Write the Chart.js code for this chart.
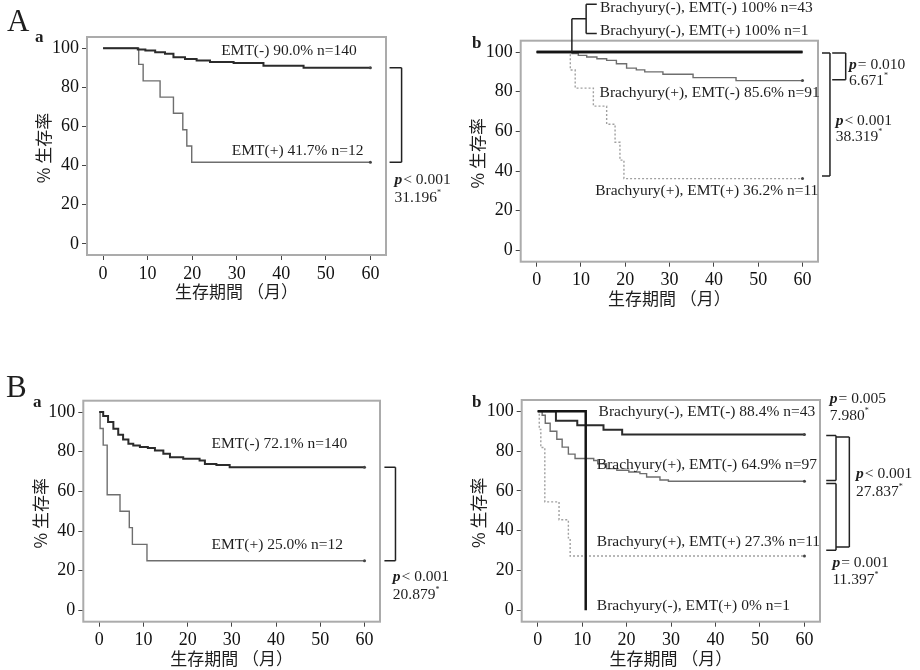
<!DOCTYPE html>
<html lang="ja">
<head>
<meta charset="UTF-8">
<title>生存曲線 EMT / Brachyury</title>
<style>
  body { margin: 0; background: #fff; }
  #fig { position: relative; width: 920px; height: 670px; }
  #fig canvas { position: absolute; }
</style>
</head>
<body>
<div id="fig">
  <canvas id="aa" width="460" height="330" style="left:0;top:0"></canvas>
  <canvas id="ab" width="460" height="330" style="left:460px;top:0"></canvas>
  <canvas id="ba" width="460" height="340" style="left:0;top:330px"></canvas>
  <canvas id="bb" width="460" height="340" style="left:460px;top:330px"></canvas>
</div>
<script src="https://cdn.jsdelivr.net/npm/chart.js"></script>
<script>
const xTicks = [0, 10, 20, 30, 40, 50, 60];
const yTicks = [0, 20, 40, 60, 80, 100];

// A-a
const aaNegT = [0, 7.8, 9.5, 11.7, 13.9, 15.8, 18.4, 21, 24, 29.3, 36, 45, 60];
const aaNegS = [100, 99.3, 98.8, 97.9, 97.2, 95.3, 94.4, 93.7, 92.9, 92.4, 91.0, 90.0, 90.0];
const aaPosT = [0, 8, 9, 12.8, 15.8, 17.9, 18.8, 19.9, 60];
const aaPosS = [100, 91.7, 83.3, 75, 66.7, 58.3, 50, 41.7, 41.7];
const aaLabels = ['EMT(-) 90.0% n=140', 'EMT(+) 41.7% n=12'];

// A-b
const abNegNegT = [0, 60];
const abNegNegS = [100, 100];
const abNegPosT = [0, 60];
const abNegPosS = [100, 100];
const abPosNegT = [0, 8, 9.4, 11.3, 13.6, 15.8, 18, 20.3, 22.5, 24.4, 28.5, 35.3, 45, 60];
const abPosNegS = [100, 99.2, 98.3, 97.5, 96.6, 95.8, 94.1, 91.9, 91.0, 90.0, 88.8, 87.1, 85.6, 85.6];
const abPosPosT = [0, 7.6, 8.7, 12.8, 15.8, 17.7, 18.8, 19.7, 60];
const abPosPosS = [100, 90.9, 81.8, 72.7, 63.6, 54.5, 45.5, 36.2, 36.2];
const abLabels = ['Brachyury(-), EMT(-) 100% n=43', 'Brachyury(-), EMT(+) 100% n=1',
                  'Brachyury(+), EMT(-) 85.6% n=91', 'Brachyury(+), EMT(+) 36.2% n=11'];

// B-a
const baNegT = [0, 0.9, 2, 3.2, 4.3, 5.4, 6.6, 7.7, 9.2, 11, 12.6, 14.5, 16, 19, 22.7, 23.9, 26.5, 29.5, 60];
const baNegS = [100, 98, 95, 91.6, 88.5, 86.1, 84, 83.1, 82.3, 81.8, 80.6, 78.9, 77.2, 76.4, 75.5, 73.8, 73.3, 72.1, 72.1];
const baPosT = [0, 0.2, 0.9, 1.8, 4.7, 6.8, 7.5, 10.8, 60];
const baPosS = [100, 91.7, 83.3, 58.3, 50, 41.7, 33.3, 25, 25];
const baLabels = ['EMT(-) 72.1% n=140', 'EMT(+) 25.0% n=12'];

// B-b
const bbNegNegT = [0, 4.1, 8.9, 14.8, 19.0, 60];
const bbNegNegS = [100, 95.3, 93.0, 90.7, 88.4, 88.4];
const bbNegPosT = [0, 10.8];
const bbNegPosS = [100, 0];
const bbPosNegT = [0, 1.0, 1.7, 2.8, 4.3, 5.5, 6.9, 8.4, 12.6, 13.5, 15.5, 17.8, 20.5, 23, 24.5, 27.5, 29.4, 60];
const bbPosNegS = [100, 98, 94, 90, 86, 82, 78.5, 76.3, 75.3, 73.7, 71.2, 70.4, 69.5, 68.7, 67, 65.5, 64.9, 64.9];
const bbPosPosT = [0, 0.35, 0.7, 1.6, 4.8, 6.9, 7.3, 60];
const bbPosPosS = [100, 90.9, 81.8, 54.5, 45.5, 36.4, 27.3, 27.3];
const bbLabels = ['Brachyury(-), EMT(-) 88.4% n=43', 'Brachyury(+), EMT(-) 64.9% n=97',
                  'Brachyury(+), EMT(+) 27.3% n=11', 'Brachyury(-), EMT(+) 0% n=1'];

const SERIF = '"Liberation Serif", "Times New Roman", serif';
const CJK = '"Noto Sans CJK JP", sans-serif';
const YW = 40, XH = 30;

const styles = {
  dark:   { borderColor: '#2b2b2b', borderWidth: 2 },
  black:  { borderColor: '#151515', borderWidth: 2.5 },
  gray:   { borderColor: '#6e6e6e', borderWidth: 1.4 },
  dotted: { borderColor: '#a0a0a0', borderWidth: 1.4, borderDash: [2, 2] }
};

// first dataset in a list is drawn on top
function curve(t, s, style, censor) {
  return Object.assign({
    data: t.map((v, i) => ({ x: v, y: s[i] })),
    stepped: 'before',
    fill: false,
    censor: censor !== false,
    pointRadius: c => (c.dataset.censor && c.index === c.dataset.data.length - 1) ? 1.5 : 0,
    pointBackgroundColor: '#444',
    pointBorderWidth: 0
  }, styles[style]);
}

function pText(ctx, px, py, op, val) {
  ctx.textAlign = 'left';
  ctx.font = 'bold italic 15.5px ' + SERIF;
  ctx.fillText('p', px, py);
  const w = ctx.measureText('p').width;
  ctx.font = '15.5px ' + SERIF;
  ctx.fillText(op + ' ' + val, px + w + 1, py);
}

function chiText(ctx, px, py, val) {
  ctx.textAlign = 'left';
  ctx.font = '15.5px ' + SERIF;
  ctx.fillText(val, px, py);
  const w = ctx.measureText(val).width;
  ctx.font = '8px ' + SERIF;
  ctx.fillText('*', px + w, py - 5);
}

const decor = {
  id: 'decor',
  beforeDatasetsDraw(chart) {
    const { ctx, chartArea: a } = chart;
    ctx.save();
    ctx.strokeStyle = '#ababab';
    ctx.lineWidth = 2;
    ctx.strokeRect(a.left, a.top, a.right - a.left, a.bottom - a.top);
    ctx.restore();
  },
  afterDraw(chart, args, o) {
    const { ctx, chartArea: a, scales: { x, y } } = chart;
    const X = v => x.getPixelForValue(v), Y = v => y.getPixelForValue(v);
    ctx.save();
    ctx.fillStyle = '#1e1e1e';
    ctx.textBaseline = 'alphabetic';
    // panel letters
    (o.letters || []).forEach(l => {
      ctx.font = l.font;
      ctx.textAlign = 'left';
      ctx.fillText(l.t, l.x, l.y);
    });
    // axis titles
    ctx.textBaseline = 'middle';
    ctx.textAlign = 'center';
    ctx.font = '17px ' + CJK;
    ctx.fillText('生存期間 （月）', (a.left + a.right) / 2, a.bottom + 37);
    ctx.save();
    ctx.translate(a.left - 43, (a.top + a.bottom) / 2 + 2);
    ctx.rotate(-Math.PI / 2);
    ctx.fillText('% 生存率', 0, 0);
    ctx.restore();
    // curve labels
    ctx.textAlign = 'left';
    ctx.font = '15.5px ' + SERIF;
    (o.labels || []).forEach(l => ctx.fillText(l.t, X(l.x), Y(l.y)));
    // brackets
    ctx.strokeStyle = '#222';
    ctx.lineWidth = 1.5;
    ctx.beginPath();
    (o.lines || []).forEach(s => {
      ctx.moveTo(X(s[0]), Y(s[1]));
      ctx.lineTo(X(s[2]), Y(s[3]));
    });
    ctx.stroke();
    // p values and chi-square
    (o.stats || []).forEach(s => {
      pText(ctx, X(s.x), Y(s.y), s.op, s.p);
      chiText(ctx, X(s.x), Y(s.y2), s.chi);
    });
    ctx.restore();
  }
};

function makeChart(id, datasets, area, deco) {
  const [L, T, R, B, W, H] = area;
  return new Chart(document.getElementById(id), {
    type: 'line',
    data: { datasets },
    options: {
      responsive: false,
      animation: false,
      layout: { padding: { left: L - YW, top: T, right: W - R, bottom: H - B - XH } },
      plugins: { legend: { display: false }, tooltip: { enabled: false }, decor: deco },
      scales: {
        x: {
          type: 'linear', min: -3.6, max: 63.5,
          afterBuildTicks: s => { s.ticks = xTicks.map(v => ({ value: v })); },
          afterFit: s => { s.height = XH; },
          grid: { drawOnChartArea: false, tickLength: 5, color: '#444' },
          border: { display: false },
          ticks: { font: { family: SERIF, size: 18 }, color: '#111', padding: 3, maxRotation: 0 }
        },
        y: {
          type: 'linear', min: -5.7, max: 105.7,
          afterBuildTicks: s => { s.ticks = yTicks.map(v => ({ value: v })); },
          afterFit: s => { s.width = YW; },
          grid: { drawOnChartArea: false, tickLength: 5, color: '#444' },
          border: { display: false },
          ticks: { font: { family: SERIF, size: 18 }, color: '#111', padding: 3 }
        }
      }
    },
    plugins: [decor]
  });
}

makeChart('aa', [
  curve(aaNegT, aaNegS, 'dark'),
  curve(aaPosT, aaPosS, 'gray')
], [87, 37, 386, 255, 460, 330], {
  letters: [{ t: 'A', x: 7, y: 31, font: '31px ' + SERIF }, { t: 'a', x: 35, y: 42, font: 'bold 17px ' + SERIF }],
  labels: [{ t: aaLabels[0], x: 26.5, y: 98.5 }, { t: aaLabels[1], x: 28.9, y: 47.5 }],
  lines: [[64.3, 90, 67.0, 90], [67.0, 90, 67.0, 41.7], [64.3, 41.7, 67.0, 41.7]],
  stats: [{ op: '<', p: '0.001', chi: '31.196', x: 65.4, y: 32.6, y2: 23.4 }]
});

makeChart('ab', [
  curve(abNegNegT, abNegNegS, 'black', false),
  curve(abNegPosT, abNegPosS, 'black', false),
  curve(abPosNegT, abPosNegS, 'gray'),
  curve(abPosPosT, abPosPosS, 'dotted')
], [60.7, 40.7, 358, 261.7, 460, 330], {
  letters: [{ t: 'b', x: 12, y: 48, font: 'bold 17px ' + SERIF }],
  labels: [{ t: abLabels[0], x: 14.3, y: 122.4 }, { t: abLabels[1], x: 14.3, y: 110.6 },
           { t: abLabels[2], x: 14.2, y: 79.3 }, { t: abLabels[3], x: 13.2, y: 29.9 }],
  lines: [[13.57, 124.1, 11.17, 124.1], [11.17, 124.1, 11.17, 109.3], [11.17, 109.3, 13.57, 109.3],
          [7.95, 116.8, 11.17, 116.8], [7.95, 116.8, 7.95, 100],
          [66.7, 99.5, 69.75, 99.5], [69.75, 99.5, 69.75, 86], [66.7, 86, 69.75, 86],
          [64.4, 99.5, 66.2, 99.5], [66.2, 99.5, 66.2, 37.5], [64.4, 37.5, 66.2, 37.5]],
  stats: [{ op: '=', p: '0.010', chi: '6.671', x: 70.5, y: 93.6, y2: 85.2 },
          { op: '<', p: '0.001', chi: '38.319', x: 67.5, y: 65.2, y2: 57.1 }]
});

makeChart('ba', [
  curve(baNegT, baNegS, 'dark'),
  curve(baPosT, baPosS, 'gray')
], [83.3, 70.7, 380, 291.7, 460, 340], {
  letters: [{ t: 'B', x: 6, y: 67, font: '31px ' + SERIF }, { t: 'a', x: 33, y: 77, font: 'bold 17px ' + SERIF }],
  labels: [{ t: baLabels[0], x: 25.4, y: 83.9 }, { t: baLabels[1], x: 25.4, y: 32.8 }],
  lines: [[64.5, 72.1, 67.0, 72.1], [67.0, 72.1, 67.0, 25], [64.5, 25, 67.0, 25]],
  stats: [{ op: '<', p: '0.001', chi: '20.879', x: 66.4, y: 16.9, y2: 8.0 }]
});

makeChart('bb', [
  curve(bbNegPosT, bbNegPosS, 'black', false),
  curve(bbNegNegT, bbNegNegS, 'dark'),
  curve(bbPosNegT, bbPosNegS, 'gray'),
  curve(bbPosPosT, bbPosPosS, 'dotted')
], [61.7, 70, 360, 291.7, 460, 340], {
  letters: [{ t: 'b', x: 12, y: 77, font: 'bold 17px ' + SERIF }],
  labels: [{ t: bbLabels[0], x: 13.7, y: 99.6 }, { t: bbLabels[1], x: 13.3, y: 72.9 },
           { t: bbLabels[2], x: 13.3, y: 34.3 }, { t: bbLabels[3], x: 13.3, y: 2.0 }],
  lines: [[64.9, 87.9, 67.1, 87.9], [67.1, 87.9, 67.1, 65.3], [64.9, 65.3, 67.1, 65.3],
          [64.9, 63.7, 67.1, 63.7], [67.1, 63.7, 67.1, 30.2], [64.9, 30.2, 67.1, 30.2],
          [67.1, 87.1, 70.1, 87.1], [70.1, 87.1, 70.1, 31.8], [67.1, 31.8, 70.1, 31.8]],
  stats: [{ op: '=', p: '0.005', chi: '7.980', x: 65.7, y: 106.4, y2: 97.5 },
          { op: '<', p: '0.001', chi: '27.837', x: 71.6, y: 68.7, y2: 59.4 },
          { op: '=', p: '0.001', chi: '11.397', x: 66.3, y: 24.0, y2: 15.1 }]
});
</script>
</body>
</html>
